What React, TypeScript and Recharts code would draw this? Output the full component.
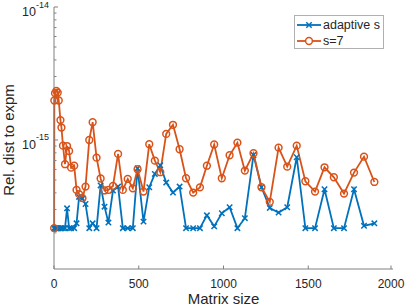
import React from "react";
import { LineChart, Line, XAxis, YAxis, Legend, Label } from "recharts";

const sizes = [1, 2, 6, 14, 22, 28, 38, 44, 53, 65, 77, 89, 101, 119, 133, 148, 168, 186, 208, 228, 251, 275, 298, 321, 348, 378, 406, 435, 465, 493, 528, 562, 595, 627, 662, 702, 741, 779, 821, 861, 902, 945, 990, 1036, 1082, 1126, 1177, 1224, 1273, 1325, 1376, 1432, 1483, 1540, 1596, 1651, 1711, 1770, 1829, 1890];

const adaptiveS = [2.17e-16, 2.17e-16, 2.17e-16, 2.17e-16, 2.17e-16, 2.17e-16, 2.17e-16, 2.17e-16, 2.17e-16, 2.17e-16,
  3.06e-16, 2.17e-16, 2.17e-16, 2.17e-16, 2.36e-16, 3.73e-16, 3.63e-16, 3.3e-16, 2.17e-16, 2.36e-16,
  2.17e-16, 4.55e-16, 3.15e-16, 2.39e-16, 4.16e-16, 4.46e-16, 2.17e-16, 2.17e-16, 2.17e-16, 6.12e-16,
  2.43e-16, 4.41e-16, 5.55e-16, 6.45e-16, 4.78e-16, 4.02e-16, 4.46e-16, 2.17e-16, 2.17e-16, 2.17e-16,
  2.71e-16, 2.24e-16, 2.81e-16, 3.12e-16, 2.17e-16, 2.58e-16, 7.71e-16, 4.41e-16, 3.08e-16, 2.84e-16,
  3.12e-16, 7.41e-16, 2.17e-16, 2.17e-16, 4.26e-16, 2.17e-16, 2.17e-16, 4.26e-16, 2.26e-16, 2.36e-16];

const s7 = [2.17e-16, 1.98e-15, 2.25e-15, 2.34e-15, 2.27e-15, 1.98e-15, 1.41e-15, 1.24e-15, 9.06e-16, 6.57e-16,
  9.0e-16, 8.26e-16, 6.19e-16, 6.41e-16, 4.21e-16, 3.91e-16, 3.65e-16, 4.46e-16, 1.0e-15, 1.36e-15,
  7.36e-16, 5.13e-16, 4.17e-16, 4.21e-16, 4.51e-16, 7.85e-16, 4.21e-16, 5.09e-16, 4.33e-16, 6.02e-16,
  4.09e-16, 9.29e-16, 6.99e-16, 5.72e-16, 1.11e-15, 1.3e-15, 8.51e-16, 5.15e-16, 4.02e-16, 4.4e-16,
  6.4e-16, 9.25e-16, 5.15e-16, 7.67e-16, 9.54e-16, 5.88e-16, 7.94e-16, 4.41e-16, 3.42e-16, 8.75e-16,
  6.3e-16, 9.06e-16, 4.89e-16, 4.09e-16, 6.23e-16, 5.24e-16, 3.95e-16, 5.68e-16, 7.49e-16, 4.83e-16];

const xTicks = [0, 500, 1000, 1500, 2000];
const yTicks = [2e-16, 3e-16, 4e-16, 5e-16, 6e-16, 7e-16, 8e-16, 9e-16, 1e-15, 2e-15, 3e-15, 4e-15, 5e-15, 6e-15, 7e-15, 8e-15, 9e-15, 1e-14];
const yDomain = [1.07e-16, 1e-14];

const seriesNames = ["adaptive s", "s=7"];
const BLUE = "#0072BD";
const ORANGE = "#D95319";
const AXIS = "#808080";
const TEXT = "#262626";
const FONT = "'Liberation Sans', Arial, Helvetica, sans-serif";

const rows = sizes.map((s, i) => ({ size: s, a: adaptiveS[i], b: s7[i] }));

const XDot = (props: any) => {
  const { cx, cy, index } = props;
  if (cx == null || cy == null) return <g key={`xa${index}`} />;
  const r = 2.7;
  return (
    <path key={`xa${index}`} d={`M${cx - r},${cy - r}L${cx + r},${cy + r}M${cx - r},${cy + r}L${cx + r},${cy - r}`}
      stroke={BLUE} strokeWidth={1.5} fill="none" />
  );
};

const ODot = (props: any) => {
  const { cx, cy, index } = props;
  if (cx == null || cy == null) return <g key={`ob${index}`} />;
  return <circle key={`ob${index}`} cx={cx} cy={cy} r={3.4} stroke={ORANGE} strokeWidth={1.5} fill="none" />;
};

const YTick = (props: any) => {
  const { x, y, payload } = props;
  const v = payload.value;
  const lg = Math.log10(v);
  const e = Math.round(lg);
  const major = Math.abs(lg - e) < 1e-6;
  return (
    <g>
      <line x1={x} x2={x + (major ? 4 : 2.5)} y1={y} y2={y} stroke={AXIS} strokeWidth={1} />
      {major && (
        <text x={x - 5} y={y + 9} textAnchor="end" fill={TEXT} fontSize={12.5} fontFamily={FONT}>
          10<tspan dy={-8.5} fontSize={9}>{String(e)}</tspan>
        </text>
      )}
    </g>
  );
};

const XTick = (props: any) => {
  const { x, y, payload } = props;
  return (
    <g>
      <line x1={x} x2={x} y1={y} y2={y - 3.5} stroke={AXIS} strokeWidth={1} />
      <text x={x} y={y + 19} textAnchor="middle" fill={TEXT} fontSize={12} fontFamily={FONT}>
        {payload.value}
      </text>
    </g>
  );
};

const YLabel = () => (
  <text x={0} y={0} transform="translate(14,140) rotate(-90)" textAnchor="middle" fill={TEXT} fontSize={15} fontFamily={FONT}>
    Rel. dist to expm
  </text>
);

const XLabel = () => (
  <text x={223.5} y={304} textAnchor="middle" fill={TEXT} fontSize={15} fontFamily={FONT}>
    Matrix size
  </text>
);

const LegendBox = () => (
  <div style={{ border: "1px solid #b0b0b0", background: "#fff", width: 88, height: 32, fontFamily: FONT, fontSize: 12.5, color: TEXT, boxSizing: "content-box" }}>
    <div style={{ display: "flex", alignItems: "center", height: 16, marginTop: 1 }}>
      <svg width={28} height={16}>
        <line x1={2} x2={26} y1={8} y2={8} stroke={BLUE} strokeWidth={1.8} />
        <path d="M11.3,5.3L16.7,10.7M11.3,10.7L16.7,5.3" stroke={BLUE} strokeWidth={1.5} fill="none" />
      </svg>
      <span>{seriesNames[0]}</span>
    </div>
    <div style={{ display: "flex", alignItems: "center", height: 16 }}>
      <svg width={28} height={16}>
        <line x1={2} x2={26} y1={8} y2={8} stroke={ORANGE} strokeWidth={1.8} />
        <circle cx={14} cy={8} r={3.4} stroke={ORANGE} strokeWidth={1.5} fill="#fff" />
      </svg>
      <span>{seriesNames[1]}</span>
    </div>
  </div>
);

export default function App() {
  return (
    <div style={{ position: "absolute", left: 0, top: 0, width: 407, height: 308, background: "#fff" }}>
      <LineChart width={407} height={308} data={rows} margin={{ top: 7, right: 14, bottom: 0, left: 0 }}>
        <XAxis dataKey="size" type="number" domain={[0, 2000]} ticks={xTicks} height={39}
          axisLine={{ stroke: AXIS }} tickLine={false} tickSize={0} tickMargin={0} tick={<XTick />}>
          <Label content={<XLabel />} />
        </XAxis>
        <YAxis type="number" scale="log" domain={yDomain} ticks={yTicks} width={54} allowDataOverflow
          axisLine={{ stroke: AXIS }} tickLine={false} tickSize={0} tickMargin={0} tick={<YTick />} interval={0}>
          <Label content={<YLabel />} />
        </YAxis>
        <Legend layout="vertical" verticalAlign="middle" align="center" content={<LegendBox />}
          wrapperStyle={{ position: "absolute", top: 15, left: 294, width: 90, height: 34 }} />
        <Line dataKey="a" name={seriesNames[0]} stroke={BLUE} strokeWidth={1.8} dot={XDot} isAnimationActive={false} />
        <Line dataKey="b" name={seriesNames[1]} stroke={ORANGE} strokeWidth={1.8} dot={ODot} isAnimationActive={false} />
      </LineChart>
    </div>
  );
}
